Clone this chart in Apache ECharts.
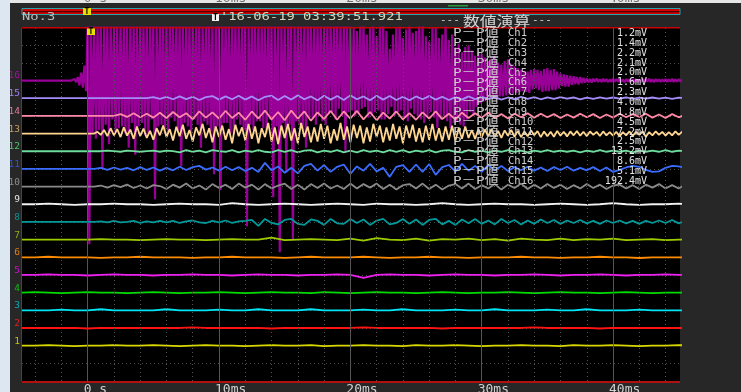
<!DOCTYPE html>
<html>
<head>
<meta charset="utf-8">
<script src="https://cdn.jsdelivr.net/npm/echarts@6/dist/echarts.min.js"></script>
<style>
  html, body { margin: 0; padding: 0; background: #272727; }
  #chart { width: 741px; height: 392px; }
</style>
</head>
<body>
<div id="chart"></div>
<script>
// ---- record header ----
const recordLabel = 'No.3';
const triggerStamp = "'16-06-19 03:39:51.921";
const panelTitle = '数値演算';

// ---- time base (ms) ----
const T0 = -5;                       // time of the first sample in every record
const timeTicks = [0, 10, 20, 30, 40];
const timeTickLabels = ['0 s', '10ms', '20ms', '30ms', '40ms'];
const minorTimeTicks = [-4, -2, 2, 4, 6, 8, 12, 14, 16, 18, 22, 24, 26, 28, 32, 34, 36, 38, 42, 44];

// ---- channels ----
const channelNames = ['1','2','3','4','5','6','7','8','9','10','11','12','13','14','15','16'];
const sampleStepMs = [1, 1, 1, 1, 1, 1, 1, 0.5, 1, 0.5, 0.5, 0.5, 0.25, 0.5, 0.5, 0.125];

// peak-to-peak readout per channel
const ppChannels = ['Ch1','Ch2','Ch3','Ch4','Ch5','Ch6','Ch7','Ch8','Ch9','Ch10','Ch11','Ch12','Ch13','Ch14','Ch15','Ch16'];
const ppValues = ['1.2mV','1.4mV','2.2mV','2.1mV','2.0mV','1.6mV','2.3mV','4.0mV','1.8mV','4.5mV','7.2mV','2.5mV','13.2mV','8.6mV','5.1mV','192.4mV'];

// traces, in hundredths of a division around each channel's baseline
const ch1 = [0,0,3,0,-3,0,0,3,0,0, 3,0,-3,0,3,0,0,-3,0,3, 0,0,3,-3,0,0,3,0,0,-3, 3,0,0,3,0,-3,0,0,3,0, 0,-3,3,0,0,3,0,-3,0,0, 3,0];
const ch2 = [0,0,0,0,0,-3,0,0,0,0, 0,0,0,3,0,0,0,0,0,-3, 0,0,0,0,0,0,3,0,0,0, 0,0,-3,0,0,0,0,0,0,3, 0,0,0,0,-3,0,0,0,0,0, 0,0];
const ch3 = [0,0,0,4,0,0,6,0,0,0, 0,6,0,0,0,4,0,0,6,0, 0,0,6,0,0,0,4,0,0,6, 0,0,0,4,0,0,6,0,0,0, 4,0,0,6,0,0,0,4,0,0, 0,0];
const ch4 = [0,3,0,-3,0,3,0,0,-3,0, 3,0,-3,0,0,3,0,-3,0,3, 0,0,-3,3,0,-3,0,3,0,0, -3,0,3,0,-3,0,0,3,0,-3, 0,3,0,0,-3,0,3,0,-3,0, 0,0];
const ch5 = [0,0,3,0,0,-3,0,3,0,0, -3,0,0,3,0,0,-3,0,3,0, 0,-3,0,0,3,0,-17,0,3,0, 0,-3,0,3,0,0,-3,0,0,3, 0,-3,0,0,3,0,-3,0,0,3, 0,0];
const ch6 = [0,0,3,0,0,0,-3,0,0,3, 0,0,0,-3,0,0,3,0,0,0, -3,0,3,0,0,0,3,0,-3,0, 0,3,0,0,-3,0,0,0,3,0, 0,-3,0,0,3,0,0,-4,0,0, 0,0];
const ch7 = [0,0,0,0,0,0,3,0,0,-3, 0,3,0,0,-3,0,3,0,0,11, -3,0,3,0,-3,6,-6,8,0,-3, 6,-6,3,0,6,-3,3,-6,6,0, -3,6,-3,3,0,6,-3,0,3,-3, 0,0];
const ch8 = [0,0,0,0,0,0,0,0,0,0,0,0,
  3,-3,6,-3,0,6,-6,3,-3,6,
  -3,6,-6,3,8,-3,-6,6,-3,8,
  -6,3,6,11,-22,17,-6,-14,11,17,
  -11,-17,14,6,-17,17,-8,-11,17,-6,
  14,-17,8,17,-14,-6,17,-11,14,-17,
  11,17,-14,6,-17,14,-8,17,-11,8,
  -14,17,-6,11,-14,8,-11,14,-6,11,
  -11,8,-6,11,-8,6,-11,8,-6,8,
  -8,6,-11,6,-6,8,-6,11,-8,6];
const ch9 = [0,0,3,0,-3,0,0,3,0,0, -3,0,3,0,0,-3,6,0,-3,0, 3,0,-3,0,3,0,-3,3,0,0, -3,0,6,0,-3,0,3,0,0,-3, 0,3,0,-3,0,6,0,-3,0,0, 3,0];
const ch10 = [0,0,0,0,0,0,0,0,0,0,0,0,
  6,-6,8,-3,11,-8,6,-11,8,3,
  -14,11,-6,17,-11,6,-17,14,-8,11,
  -14,17,-6,11,-17,14,-11,6,17,-14,
  11,-17,14,-8,17,-11,6,-14,17,-11,
  14,-6,17,-14,11,-17,8,14,-11,17,
  -14,11,-17,6,14,-11,17,-14,8,-11,
  14,-17,11,-8,17,-14,11,-11,14,-8,
  11,-14,8,-11,14,-8,11,-14,6,11,
  -11,8,-14,11,-6,14,-11,8,-11,11];
const ch11 = [0,0,0,0,0,0,0,0,0,0,0,0,
  6,-6,8,-4,6,-8,10,-6,8,-10,
  6,-8,12,-6,10,17,-4,8,-10,12,
  -8,10,-12,6,-17,34,-8,14,-22,6,
  -25,17,28,-10,22,-17,12,25,-28,14,
  -10,28,-14,6,-45,12,22,-17,25,-17,
  28,-34,10,22,-14,28,-10,17,-17,22,
  -8,17,-12,10,-8,12,-10,8,-12,10,
  -6,12,-10,6,-8,10,-12,8,-17,-6,
  8,17,12,-6,-17,-14,6,17,14,6];
const ch12 = [0,0,0,0,0,0,0,0,0,0,0,0,
  0,3,0,-3,3,0,-3,0,3,-3,
  3,0,-6,6,-3,3,-6,6,0,-3,
  6,-6,3,-3,6,-3,-6,6,-3,6,
  -6,3,6,-6,3,-3,6,-6,3,-6,
  6,-3,3,-6,6,-3,6,-6,3,-3,
  6,-6,3,6,-3,-6,6,-3,3,-6,
  3,-3,6,-3,3,-6,3,-3,6,-3,
  3,-3,3,-6,3,-3,6,-3,3,-3,
  3,-6,3,-3,3,-3,6,-3,3,0];
const ch13 = [0,0,0,0,0,0,0,0,0,0,
  0,0,0,0,0,0,0,0,0,0,
  0,0,0,10,-8,20,-15,30,-10,25,
  -20,35,-12,22,-30,40,-15,28,-25,15,
  -35,30,-10,45,-20,25,-40,38,-15,50,
  -30,20,-45,35,-10,55,-25,30,-50,40,
  -20,45,-35,25,-55,50,-15,35,-40,55,
  -30,40,-55,30,-20,60,-45,35,-60,45,
  -25,55,-40,30,-55,60,-20,40,-50,35,
  -45,55,-30,45,-55,25,-40,60,-35,40,
  -50,50,-25,45,-55,35,-45,55,-20,45,
  -50,35,-40,55,-30,40,-55,45,-25,50,
  -45,30,-50,45,-35,55,-40,30,-45,40,
  -35,45,-40,30,-30,40,-25,20,-30,25,
  -20,22,-15,25,-20,15,-25,18,-12,20,
  -18,15,-20,12,-15,18,-10,14,-20,12,
  -15,10,-18,15,-12,10,-16,12,-10,14,
  -12,10,-15,12,-8,10,-14,12,-10,8,
  -12,10,-16,8,-10,12,-14,10,-8,12,
  -18,8,-10,12,-8,10,-12,8,-10,12,
  -8,10,-6];
const ch14 = [0,0,0,0,0,0,0,0,0,0,
  0,0,0,0,0,10,-6,15,-8,12,
  -10,18,-12,22,-8,15,-18,25,-10,20,
  -15,28,-12,18,-22,25,-15,30,-20,22,
  -25,30,-15,25,-28,20,-18,28,-22,25,
  -15,28,-20,22,-25,18,-15,25,-20,15,
  -22,20,-15,25,-18,12,-20,18,-12,15,
  -10,18,-12,10,-15,12,-8,15,-10,12,
  -8,10,-12,8,-10,12,-8,10,-12,8,
  -10,12,-8,10,-6,12,-10,8,-12,10,
  -8,6];
const ch15 = [0,0,0,0,0,0,0,0,0,0,
  0,0,0,0,0,0,0,0,0,0,
  6,-4,8,-6,10,-5,8,-10,6,12,
  -8,10,-6,14,-8,10,-12,8,14,-10,
  12,-8,16,-6,10,-12,14,-8,12,-10,
  16,-6,10,-12,14,-8,12,-10,8,-12,
  10,-6,12,-8,8,-10,6,-8,10,-6,
  8,-4,6,-8,4,-6,8,-4,6,-6,
  4,-4,6,-3,4,-6,3,-4,5,-3,
  4,-3,4,-4,3,-3,4,-3,3,-4,
  3,0];
const ch16 = [
  // quiet before the trigger (-5 .. -1.125 ms)
  0,0,0,0,0,0,0,0,0,0, 0,0,0,0,0,0,0,0,0,0, 0,0,0,0,0,0,0,0,0,0, 0,0,
  // onset (-1 .. -0.125 ms)
  8,-10,20,-28,45,-40,85,-60,
  // burst, driven past the top of the screen (0 .. 19.875 ms)
  330,-926, 330,-300, 330,-330, 330,-280, 330,-500, 330,-250, 330,-360, 330,-220, 330,-300, 330,-270,
  330,-260, 330,-300, 330,-380, 330,-240, 330,-420, 330,-260, 330,-240, 330,-310, 330,-300, 330,-220,
  330,-672, 330,-260, 330,-250, 330,-300, 330,-300, 330,-210, 330,-230, 330,-280, 330,-486, 330,-240,
  330,-260, 330,-300, 330,-220, 330,-250, 330,-380, 330,-230, 330,-250, 330,-290, 330,-530, 330,-260,
  330,-620, 330,-240, 330,-240, 330,-300, 330,-300, 330,-220, 330,-250, 330,-280, 330,-825, 330,-250,
  330,-280, 330,-230, 330,-230, 330,-270, 330,-300, 330,-220, 330,-660, 330,-260, 330,-972, 330,-240,
  330,-520, 330,-250, 330,-900, 330,-230, 330,-250, 330,-280, 330,-380, 330,-210, 330,-220, 330,-250,
  330,-200, 330,-230, 330,-250, 330,-190, 330,-180, 330,-220, 330,-160, 330,-200, 330,-400, 330,-180,
  // 20 .. 27.375 ms
  330,-170, 300,-200, 280,-190, 330,-160, 330,-150, 260,-210, 300,-200, 330,-180, 250,-170, 310,-220,
  330,-220, 280,-190, 180,-150, 260,-200, 300,-180, 330,-170, 240,-210, 290,-230, 330,-160, 270,-190,
  280,-200, 330,-220, 330,-240, 250,-200, 220,-180, 300,-210, 300,-270, 240,-220, 260,-200, 330,-230,
  // decay, 27.5 .. 37.875 ms
  230,-270, 260,-240, 190,-230, 210,-250, 160,-260, 190,-220, 200,-180, 170,-200, 140,-150, 160,-130,
  150,-120, 130,-110, 110,-100, 125,-95, 140,-110, 100,-90, 90,-90, 110,-85, 120,-80, 95,-75,
  80,-70, 70,-65, 60,-60, 55,-65, 50,-70, 60,-50, 65,-45, 60,-55, 55,-65, 65,-60,
  70,-60, 60,-55, 65,-55, 50,-45, 40,-30, 35,-35, 30,-35, 28,-25, 25,-20, 20,-22,
  20,-15, 15,-12,
  // tail, 38 .. 45.5 ms
  12,-10, 8,-12, 10,-6, 12,-8, 6,-8, 10,-6, 8,-10, 6,-8, 10,-6, 8,-6,
  10,-8, 6,-10, 8,-6, 6,-8, 6,-6, 8,-10, 6,-8, 10,-6, 8,-6, 10,-8,
  6,-10, 8,-6, 6,-8, 6,-6, 8,-8, 6,-6, 10,-8, 6,-6, 8,-6, 6,-8,
  4];

const traces = [ch1, ch2, ch3, ch4, ch5, ch6, ch7, ch8, ch9, ch10, ch11, ch12, ch13, ch14, ch15, ch16];

// ---- styling ----
const traceColors = ['#d8d800','#ff1414','#00e4f4','#00dc00','#f020f0','#ff8c00','#9ccc00','#009a9a',
                     '#f2f2f2','#8a8a8a','#3a6cff','#6edc9c','#ffd690','#ff88a8','#a68cfa','#980098'];
const labelColors = ['#c4c400','#e02020','#10a8b8','#10b810','#d010d0','#e08010','#8cb010','#108c8c',
                     '#e4e4e4','#8c8c8c','#2a52e6','#50c070','#c8a060','#e07898','#a080f0','#a010a0'];
const MONO = '"DejaVu Sans Mono", "Noto Sans CJK JP", monospace';

// each channel sits one division above the previous one; channel 1 at division 2
function traceData(k) {
  const base = k + 2;
  return traces[k].map((v, i) => [T0 + i * sampleStepMs[k], base + v / 100]);
}

const series = [];
// background grid: dotted every 2 ms, solid every 10 ms
series.push({
  type: 'line', data: [], silent: true, z: 1,
  markLine: {
    silent: true, symbol: ['none', 'none'], animation: false, label: { show: false },
    lineStyle: { color: '#555', type: [1, 3], width: 1 },
    data: minorTimeTicks.map(t => ({ xAxis: t }))
  }
});
series.push({
  type: 'line', data: [], silent: true, z: 1,
  markLine: {
    silent: true, symbol: ['none', 'none'], animation: false, label: { show: false },
    lineStyle: { color: '#555', type: 'solid', width: 1 },
    data: timeTicks.map(t => ({ xAxis: t }))
  }
});
// channel 16 goes underneath the others
const order = [15, 0, 1, 2, 3, 4, 5, 6, 7, 8, 9, 10, 11, 12, 13, 14];
order.forEach(k => {
  series.push({
    type: 'line', name: 'Ch' + channelNames[k], data: traceData(k),
    showSymbol: false, symbol: 'none', silent: true, clip: true, z: 2,
    lineStyle: { color: traceColors[k], width: k === 15 ? 2.2 : 1.8, join: 'bevel' }
  });
});

const chart = echarts.init(document.getElementById('chart'), null, { renderer: 'canvas' });
chart.setOption({
  backgroundColor: '#272727',
  animation: false,
  grid: { left: 22, top: 27.5, width: 658, height: 353.5, show: true, backgroundColor: '#000', borderWidth: 0, outerBoundsMode: 'none' },
  xAxis: { type: 'value', min: -5, max: 45.1, show: false },
  yAxis: {
    type: 'value', min: 0, max: 20, interval: 1,
    axisLine: { show: false }, axisTick: { show: false },
    splitLine: { show: true, lineStyle: { color: '#4e4e4e', type: [1, 3], width: 1 } },
    axisLabel: {
      show: true, margin: 2, fontSize: 9.5, fontFamily: MONO, verticalAlign: 'bottom', lineHeight: 9,
      formatter: v => (v >= 2 && v <= 17) ? channelNames[v - 2] : '',
      color: v => (v >= 2 && v <= 17) ? labelColors[v - 2] : 'transparent'
    }
  },
  series: series
});

// ---- screen furniture and readouts ----
function rect(x, y, w, h, fill, extra) {
  return Object.assign({ type: 'rect', silent: true, z: 100, shape: { x, y, width: w, height: h }, style: { fill } }, extra || {});
}
function txt(x, y, s, color, font, opts) {
  opts = opts || {};
  const align = opts.align || 'left';
  const va = opts.va || 'middle';
  return {
    type: 'text', silent: true, z: 101, x, y, scaleX: opts.sx || 1,
    style: { text: s, fill: color, font, align, verticalAlign: va, textAlign: align, textVerticalAlign: va }
  };
}
function marker(x, y, w, h, bg) {
  return [rect(x, y, w, h, bg), txt(x + w / 2, y + h / 2 + 0.5, 'T', '#000', 'bold 8px ' + MONO, { align: 'center' })];
}

const g = [];
g.push(rect(0, 0, 10, 392, '#dde7f2'));
g.push(rect(10, 0, 731, 3, '#e6e6e6'));
g.push(rect(448, 5, 20, 1.5, '#2a9a40'));
// top record bar
g.push(rect(22, 8.5, 658, 6, '#d00000', { style: { fill: '#d00000', stroke: '#2aa4ac', lineWidth: 1 } }));
g.push(rect(22.5, 11.2, 657, 1, '#300000'));
g.push(...marker(83, 8, 8, 7, '#e8e000'));
// header line
g.push(txt(22, 17, recordLabel, '#bdbdbd', '10px ' + MONO, { sx: 1.38 }));
g.push(...marker(212, 14, 7, 7, '#f0f0f0'));
g.push(txt(220, 17, triggerStamp, '#d8d8b8', '10px ' + MONO, { sx: 1.38 }));
g.push(txt(440, 20.5, '---', '#d0d0d0', '11px ' + MONO));
g.push(txt(463, 21, panelTitle, '#d4d4d4', '14px "Noto Sans CJK JP"', { sx: 1.2 }));
g.push(txt(532, 20.5, '---', '#d0d0d0', '11px ' + MONO));
// plot frame
g.push(rect(21, 28, 1, 353, '#444'));
g.push(rect(22, 27, 658, 1.5, '#c80000'));
g.push(rect(22, 381, 658, 2, '#b01010'));
g.push(...marker(87, 28.5, 8, 6.5, '#e8e000'));
// peak-to-peak table
ppChannels.forEach((c, i) => {
  const y = 33.3 + i * 9.87;
  g.push(txt(453, y, 'P－P値', '#cfcfcf', '11px ' + MONO, { sx: 1.3 }));
  g.push(txt(508, y, c, '#cfcfcf', '10.5px ' + MONO));
  g.push(txt(647, y, ppValues[i], '#e4e4e4', '10px ' + MONO, { align: 'right' }));
});
// time axis labels, placed through the axis scale
timeTicks.forEach((t, i) => {
  const px = chart.convertToPixel({ xAxisIndex: 0 }, t);
  g.push(txt(px - 4, 383, timeTickLabels[i], '#d0d0d0', '13px ' + MONO, { va: 'top' }));
  g.push(txt(px - 4, 5, timeTickLabels[i], '#707070', '13px ' + MONO, { va: 'bottom' }));
});

chart.setOption({ graphic: { elements: g } });
</script>
</body>
</html>
